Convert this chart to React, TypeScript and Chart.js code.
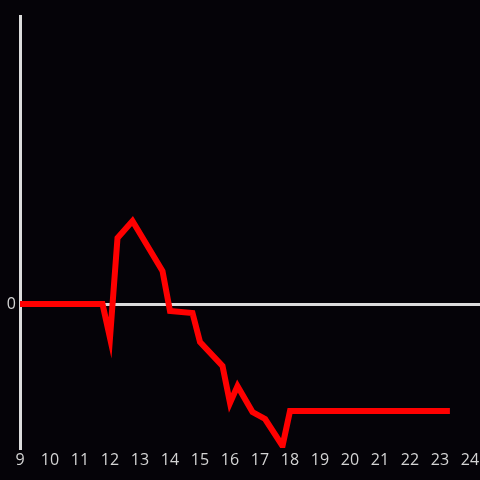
import React, { useEffect, useRef } from "react";
import { Chart, registerables } from "chart.js";

Chart.register(...registerables);

const hours = [9, 11.75, 12, 12.25, 12.75, 13.75, 14, 14.75, 15, 15.75, 16, 16.25, 16.75, 17.17, 17.75, 18, 23.33];
const values = [0, 0, -34, 66, 83, 33, -7, -9, -38, -62, -99, -82, -108, -115, -142, -107, -107];
const xTickValues = [9, 10, 11, 12, 13, 14, 15, 16, 17, 18, 19, 20, 21, 22, 23, 24];
const yTickValues = [0];

const BG = "#050308";
const AXIS = "#dcdcdc";
const TEXT = "#d4d4d4";
const FONT = "'Open Sans', 'Noto Sans', sans-serif";

export default function App() {
  const ref = useRef<HTMLCanvasElement | null>(null);

  useEffect(() => {
    document.body.style.margin = "0";
    document.body.style.background = BG;
    const ctx = ref.current!;
    const chart = new Chart(ctx, {
      type: "line",
      data: {
        datasets: [
          {
            data: hours.map((h, i) => ({ x: h, y: values[i] })),
            borderColor: "#ff0000",
            backgroundColor: "#ff0000",
            borderWidth: 6,
            pointRadius: 0,
            tension: 0,
            fill: false,
          },
        ],
      },
      options: {
        animation: false,
        responsive: false,
        maintainAspectRatio: false,
        layout: { padding: { top: 16, right: 0, left: 0, bottom: 0 } },
        plugins: { legend: { display: false }, tooltip: { enabled: false } },
        scales: {
          x: {
            type: "linear",
            min: 9,
            max: 24.3333,
            afterBuildTicks: (s: any) => {
              s.ticks = xTickValues.map((v) => ({ value: v }));
            },
            afterFit: (s: any) => {
              s.height = 32;
              s.paddingRight = 0;
              s.paddingLeft = 0;
            },
            border: { display: false },
            grid: { display: false, drawTicks: false },
            ticks: {
              color: TEXT,
              padding: 3,
              maxRotation: 0,
              autoSkip: false,
              font: { size: 16, family: FONT },
              callback: (v: any) => String(v),
            },
          },
          y: {
            type: "linear",
            min: -144,
            max: 288,
            afterBuildTicks: (s: any) => {
              s.ticks = yTickValues.map((v) => ({ value: v }));
            },
            afterFit: (s: any) => {
              s.width = 20;
            },
            border: { display: true, color: AXIS, width: 3 },
            grid: {
              drawTicks: false,
              color: AXIS,
              lineWidth: 3,
            },
            ticks: {
              color: TEXT,
              padding: 4,
              font: { size: 16, family: FONT },
              callback: (v: any) => String(v),
            },
          },
        },
      },
    });
    return () => chart.destroy();
  }, []);

  return (
    <div style={{ position: "fixed", left: 0, top: 0, width: 480, height: 480, background: BG }}>
      <canvas ref={ref} width={480} height={480} style={{ width: 480, height: 480, display: "block" }} />
    </div>
  );
}
